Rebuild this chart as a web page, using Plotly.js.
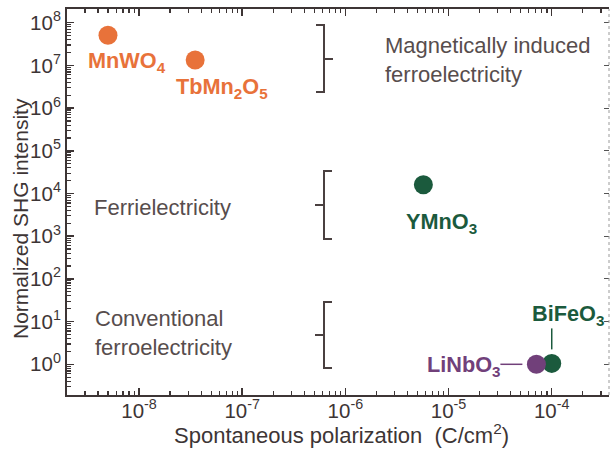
<!DOCTYPE html>
<html>
<head>
<meta charset="utf-8">
<script src="https://cdn.plot.ly/plotly-3.0.1.min.js"></script>
<style>html,body{margin:0;padding:0;background:#fff;}#chart{width:610px;height:451px;}</style>
</head>
<body>
<div id="chart"></div>
<script>
// ---- data ----
const materials = ['MnWO<sub>4</sub>', 'TbMn<sub>2</sub>O<sub>5</sub>', 'YMnO<sub>3</sub>', 'BiFeO<sub>3</sub>', 'LiNbO<sub>3</sub>'];
const polarization = [5.0e-9, 3.5e-8, 5.7e-6, 1.0e-4, 7.1e-5];   // C/cm^2
const shgIntensity = [5.1e7, 1.34e7, 1.6e4, 1.05, 1.0];
const groupLabels = ['Magnetically induced<br>ferroelectricity', 'Ferrielectricity', 'Conventional<br>ferroelectricity'];
const xTickExps = [-8, -7, -6, -5, -4];
const yTickExps = [0, 1, 2, 3, 4, 5, 6, 7, 8];
const xTickLabels = ['10<sup>-8</sup>', '10<sup>-7</sup>', '10<sup>-6</sup>', '10<sup>-5</sup>', '10<sup>-4</sup>'];
const yTickLabels = ['10<sup>0</sup>', '10<sup>1</sup>', '10<sup>2</sup>', '10<sup>3</sup>', '10<sup>4</sup>', '10<sup>5</sup>', '10<sup>6</sup>', '10<sup>7</sup>', '10<sup>8</sup>'];
const xTitle = 'Spontaneous polarization  (C/cm<sup>2</sup>)';
const yTitle = 'Normalized SHG intensity';

// ---- style ----
const ORANGE = '#e8723a', GREEN = '#1b5a3d', PURPLE = '#71407a';
const colorOf = {'MnWO<sub>4</sub>': ORANGE, 'TbMn<sub>2</sub>O<sub>5</sub>': ORANGE, 'YMnO<sub>3</sub>': GREEN, 'BiFeO<sub>3</sub>': GREEN, 'LiNbO<sub>3</sub>': PURPLE};
const AX = '#3d3535', TXT = '#574d4d';
const FONT = 'Liberation Sans, Arial, Helvetica, sans-serif';
const W = 610, H = 451, ML = 67, MR = 1, MT = 9, MB = 56;
const PW = W - ML - MR, PH = H - MT - MB;
const xRange = [-8.698, -3.445], yRange = [-0.719, 8.321];
const PX = px => (px - ML) / PW;            // pixel -> paper x
const PY = py => (H - MB - py) / PH;        // pixel -> paper y
const dataPX = v => (Math.log10(v) - xRange[0]) / (xRange[1] - xRange[0]);
const dataPY = v => (Math.log10(v) - yRange[0]) / (yRange[1] - yRange[0]);

function minorVals(lo, hi) {
  const out = [];
  for (let e = lo; e <= hi; e++) for (let m = 2; m <= 9; m++) out.push(m * Math.pow(10, e));
  return out;
}

const trace = {
  type: 'scatter', mode: 'markers',
  x: polarization, y: shgIntensity,
  marker: {size: 19, color: materials.map(m => colorOf[m]), line: {width: 0}},
  cliponaxis: false, hoverinfo: 'skip', showlegend: false
};
const trace2 = {type: 'scatter', mode: 'markers', x: [polarization[0]], y: [shgIntensity[0]],
  yaxis: 'y2', marker: {opacity: 0}, hoverinfo: 'skip', showlegend: false};

// label offsets (px) relative to each point
const labelOffsets = [
  {dx: 19, dy: -27, xa: 'center'},
  {dx: 27, dy: -28, xa: 'center'},
  {dx: 18, dy: -38, xa: 'center'},
  {dx: 16, dy: 48, xa: 'center'},
  {dx: -33, dy: -2, xa: 'right'}
];
const annotations = materials.map((m, i) => ({
  xref: 'x', yref: 'y', x: Math.log10(polarization[i]), y: Math.log10(shgIntensity[i]),
  text: m, showarrow: false, xanchor: labelOffsets[i].xa, yanchor: 'middle',
  xshift: labelOffsets[i].dx, yshift: labelOffsets[i].dy,
  font: {family: FONT, size: 21.7, color: colorOf[m], weight: 'bold'}
}));
// group labels
const groupPos = [[383, 60], [92, 207], [93, 333]];
groupLabels.forEach((g, i) => annotations.push({
  xref: 'paper', yref: 'paper', x: PX(groupPos[i][0]), y: PY(groupPos[i][1]),
  text: g, showarrow: false, xanchor: 'left', yanchor: 'middle', align: 'left',
  font: {family: FONT, size: 22, color: TXT}
}));
// axis titles as annotations
annotations.push({xref: 'paper', yref: 'paper', x: PX(21), y: PY(219), text: yTitle, textangle: -90,
  showarrow: false, xanchor: 'center', yanchor: 'middle', font: {family: FONT, size: 21, color: AX}});
annotations.push({xref: 'paper', yref: 'paper', x: PX(341), y: PY(434), text: xTitle,
  showarrow: false, xanchor: 'center', yanchor: 'middle', borderpad: 0, font: {family: FONT, size: 22, color: AX}});

// brackets
const shapes = [];
const ln = (x0, y0, x1, y1, color, width, dash) => shapes.push({type: 'line', xref: 'paper', yref: 'paper',
  x0: PX(x0), y0: PY(y0), x1: PX(x1), y1: PY(y1), line: {color: color, width: width, dash: dash || 'solid'}});
const BR = '#4a4040';
// ] with right tick
ln(324, 25, 324, 92, BR, 2); ln(316, 25, 325, 25, BR, 2); ln(316, 92, 325, 92, BR, 2); ln(324, 59, 333, 59, BR, 2);
// [ with left tick
ln(324, 171, 324, 239, BR, 2); ln(323, 171, 332, 171, BR, 2); ln(323, 239, 332, 239, BR, 2); ln(315, 205, 324, 205, BR, 2);
ln(324, 302, 324, 368, BR, 2); ln(323, 302, 332, 302, BR, 2); ln(323, 368, 332, 368, BR, 2); ln(315, 335, 324, 335, BR, 2);
// right dotted frame
shapes.push({type: 'line', xref: 'paper', yref: 'paper', x0: 1, x1: 1, y0: 0, y1: 1, line: {color: '#9a9a9a', width: 1, dash: 'dot'}});
// leader lines
const iLi = 4, iBi = 3;
shapes.push({type: 'line', xref: 'paper', yref: 'paper',
  x0: dataPX(polarization[iLi]) - 36 / PW, x1: dataPX(polarization[iLi]) - 14 / PW,
  y0: dataPY(shgIntensity[iLi]), y1: dataPY(shgIntensity[iLi]), line: {color: PURPLE, width: 1.5}});
shapes.push({type: 'line', xref: 'paper', yref: 'paper',
  x0: dataPX(polarization[iBi]), x1: dataPX(polarization[iBi]),
  y0: dataPY(shgIntensity[iBi]) + 14 / PH, y1: dataPY(shgIntensity[iBi]) + 35 / PH, line: {color: GREEN, width: 1.5}});

const tickFont = {family: FONT, size: 20.5, color: AX};
const layout = {
  width: W, height: H, margin: {l: ML, r: MR, t: MT, b: MB},
  paper_bgcolor: '#ffffff', plot_bgcolor: '#ffffff',
  font: {family: FONT, color: AX},
  xaxis: {
    type: 'log', range: xRange, showgrid: false, zeroline: false,
    showline: true, linecolor: AX, linewidth: 2, mirror: 'ticks',
    ticks: 'inside', ticklen: 7, tickwidth: 1.5, tickcolor: AX, ticklabelstandoff: -4,
    tickvals: xTickExps.map(e => Math.pow(10, e)), ticktext: xTickLabels, tickfont: tickFont,
    minor: {tickvals: minorVals(-9, -4), ticks: 'inside', ticklen: 4, tickwidth: 1.2, tickcolor: AX, showgrid: false}
  },
  yaxis: {
    type: 'log', range: yRange, showgrid: false, zeroline: false,
    showline: true, linecolor: AX, linewidth: 2, mirror: false,
    ticks: 'inside', ticklen: 7, tickwidth: 1.5, tickcolor: AX,
    tickvals: yTickExps.map(e => Math.pow(10, e)), ticktext: yTickLabels, tickfont: tickFont,
    minor: {tickvals: minorVals(-1, 8), ticks: 'inside', ticklen: 4, tickwidth: 1.2, tickcolor: AX, showgrid: false}
  },
  yaxis2: {
    type: 'log', range: yRange, overlaying: 'y', side: 'right', anchor: 'x',
    showgrid: false, zeroline: false, showline: false, showticklabels: false,
    ticks: 'inside', ticklen: 5, tickwidth: 1.2, tickcolor: '#555',
    tickvals: yTickExps.map(e => Math.pow(10, e))
  },
  annotations: annotations, shapes: shapes
};

Plotly.newPlot('chart', [trace2, trace], layout, {displayModeBar: false, staticPlot: true});
</script>
</body>
</html>
